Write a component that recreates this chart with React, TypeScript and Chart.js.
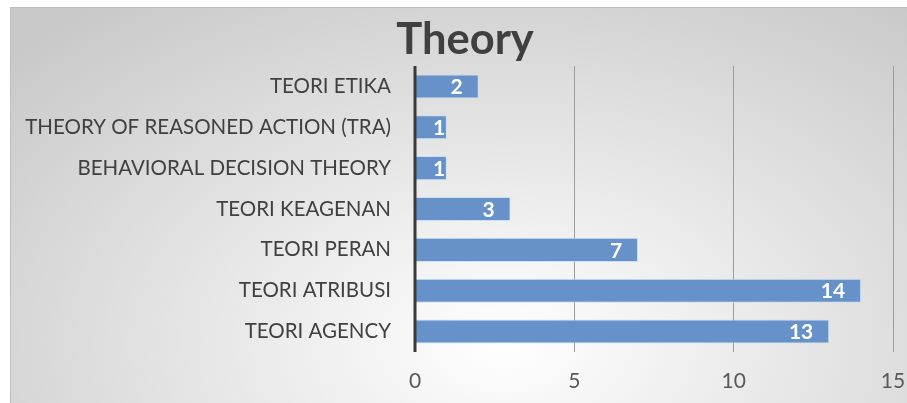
import React, { useEffect, useRef } from "react";
import { Chart, registerables } from "chart.js";

Chart.register(...registerables);

const categories = [
  "TEORI ETIKA",
  "THEORY OF REASONED ACTION (TRA)",
  "BEHAVIORAL DECISION THEORY",
  "TEORI KEAGENAN",
  "TEORI PERAN",
  "TEORI ATRIBUSI",
  "TEORI AGENCY",
];
const values = [2, 1, 1, 3, 7, 14, 13];
const xTicks = [0, 5, 10, 15];
const titleText = "Theory";

const FONT = "Lato, 'Open Sans', sans-serif";

const labelPlugin = {
  id: "insideEndLabels",
  afterDatasetsDraw(chart: any) {
    const { ctx } = chart;
    const meta = chart.getDatasetMeta(0);
    const xScale = chart.scales.x;
    const base = xScale.getPixelForValue(0);
    ctx.save();
    ctx.font = `bold 21px ${FONT}`;
    ctx.fillStyle = "#ffffff";
    ctx.textAlign = "right";
    ctx.textBaseline = "middle";
    meta.data.forEach((bar: any, i: number) => {
      const txt = String(values[i]);
      const w = ctx.measureText(txt).width;
      const x = Math.max(bar.x - 16, base + w + 18);
      ctx.fillText(txt, x, bar.y + 1);
    });
    ctx.restore();
  },
};

const axisLinePlugin = {
  id: "thickAxisLine",
  afterDatasetsDraw(chart: any) {
    const { ctx, chartArea } = chart;
    const x = chart.scales.x.getPixelForValue(0);
    ctx.save();
    ctx.strokeStyle = "#3a3a3a";
    ctx.lineWidth = 3;
    ctx.beginPath();
    ctx.moveTo(x, chartArea.top);
    ctx.lineTo(x, chartArea.bottom);
    ctx.stroke();
    ctx.restore();
  },
};

const titlePlugin = {
  id: "offsetTitle",
  afterDraw(chart: any) {
    const tb = chart.titleBlock;
    if (!tb) return;
    const { ctx } = chart;
    ctx.save();
    ctx.font = `bold 43.5px ${FONT}`;
    ctx.fillStyle = "#404040";
    ctx.textAlign = "center";
    ctx.textBaseline = "middle";
    ctx.fillText(titleText, tb.left + tb.width / 2 + 13, tb.top + 6 + 26);
    ctx.restore();
  },
};

export default function App() {
  const ref = useRef<HTMLCanvasElement | null>(null);
  useEffect(() => {
    if (!ref.current) return;
    const chart = new Chart(ref.current, {
      type: "bar",
      data: {
        labels: categories,
        datasets: [
          {
            data: values,
            backgroundColor: "#6692c9",
            borderColor: "rgba(200,220,245,0.8)",
            borderWidth: 1,
            categoryPercentage: 1,
            barPercentage: 0.59,
          },
        ],
      },
      options: {
        indexAxis: "y",
        animation: false,
        responsive: false,
        maintainAspectRatio: false,
        layout: { padding: { left: 0, right: 14, top: 0, bottom: 0 } },
        plugins: {
          legend: { display: false },
          tooltip: { enabled: false },
          title: {
            display: true,
            text: titleText,
            color: "rgba(0,0,0,0)",
            font: { family: FONT, size: 42, weight: "bold", lineHeight: 1.2 },
            padding: { top: 6, bottom: 1.6 },
          },
        },
        scales: {
          x: {
            min: 0,
            max: 15,
            afterBuildTicks: (scale: any) => {
              scale.ticks = xTicks.map((v) => ({ value: v }));
            },
            afterFit: (scale: any) => {
              scale.height = 51;
              scale.paddingRight = 0;
              scale.paddingLeft = 0;
            },
            grid: {
              color: (c: any) => (c.tick && c.tick.value === 0 ? "rgba(0,0,0,0)" : "#9c9c9c"),
              lineWidth: 1,
              drawTicks: false,
            },
            border: { display: false },
            ticks: {
              color: "#595959",
              font: { family: FONT, size: 21 },
              padding: 17,
            },
          },
          y: {
            afterFit: (scale: any) => {
              scale.width = 404;
            },
            grid: { display: false, drawTicks: false },
            border: { display: false },
            ticks: {
              color: "#404040",
              font: { family: FONT, size: 20.5 },
              padding: 24,
              autoSkip: false,
            },
          },
        },
      },
      plugins: [labelPlugin, axisLinePlugin, titlePlugin],
    } as any);
    return () => chart.destroy();
  }, []);

  return (
    <div
      style={{
        position: "absolute",
        left: 10,
        top: 7,
        width: 897,
        height: 396,
        borderTop: "1px solid #bdbdbd",
        borderLeft: "1px solid #bdbdbd",
        boxSizing: "border-box",
        background:
          "radial-gradient(ellipse 75% 110% at 55% 85%, #ffffff 0%, #e6e6e6 45%, #c8c8c8 100%)",
      }}
    >
      <canvas
        ref={ref}
        width={896}
        height={395}
        style={{ display: "block", width: 896, height: 395 }}
      />
    </div>
  );
}
